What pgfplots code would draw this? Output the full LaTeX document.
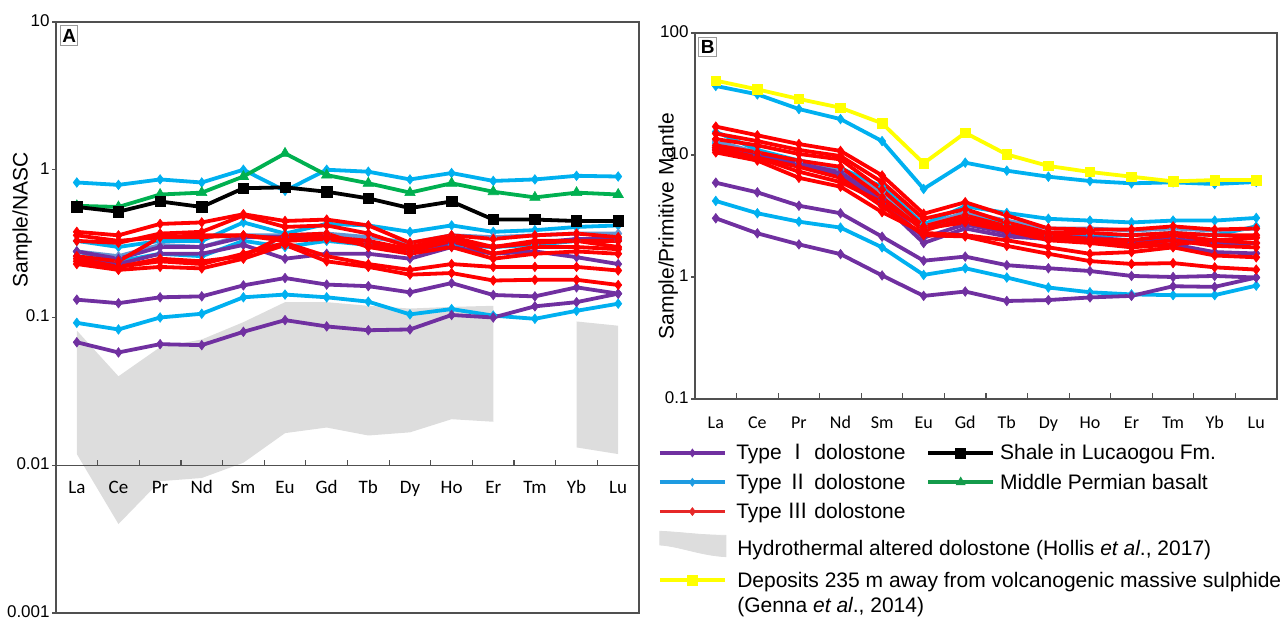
\documentclass[border=0pt]{standalone}
\usepackage{pgfplots}
\usepackage{pgfplotstable}
\pgfplotsset{compat=1.18}
\usepackage{fontspec}
\setmainfont{Liberation Sans}
\newfontfamily\carlito{Carlito}
\newfontfamily\cjk{Noto Sans CJK SC}

\definecolor{pur}{RGB}{112,48,160}
\definecolor{blu}{RGB}{0,176,240}
\definecolor{stl}{RGB}{100,150,210}
\definecolor{rd}{RGB}{255,0,0}
\definecolor{grn}{RGB}{0,176,80}
\definecolor{yel}{RGB}{255,255,0}
\definecolor{gry}{RGB}{221,221,221}
\definecolor{frm}{RGB}{80,80,80}
\definecolor{legblu}{RGB}{30,155,225}
\definecolor{legrd}{RGB}{230,40,40}
\definecolor{leggrn}{RGB}{20,155,75}

\pgfplotstableread{
x  P1    P2    P3    P4   B1   B2    B3   B4   B5   R1   R2   R3   R4   R5    R6    R7   G    K
0  0.068 0.132 0.26  0.28 0.82 0.092 0.33 0.28 0.28 0.38 0.33 0.26 0.24 0.23  0.25  0.36 0.57 0.56
1  0.058 0.125 0.23  0.25 0.79 0.083 0.30 0.24 0.26 0.36 0.32 0.24 0.22 0.21  0.22  0.33 0.56 0.52
2  0.066 0.137 0.27  0.30 0.86 0.100 0.33 0.27 0.31 0.43 0.37 0.35 0.25 0.22  0.24  0.35 0.68 0.61
3  0.065 0.139 0.27  0.30 0.82 0.106 0.33 0.26 0.30 0.44 0.38 0.35 0.24 0.215 0.23  0.36 0.70 0.56
4  0.080 0.165 0.31  0.35 1.00 0.137 0.44 0.33 0.36 0.50 0.49 0.36 0.26 0.25  0.27  0.36 0.90 0.75
5  0.096 0.185 0.25  0.35 0.72 0.143 0.37 0.30 0.36 0.45 0.41 0.33 0.36 0.31  0.32  0.34 1.29 0.76
6  0.087 0.167 0.27  0.35 1.00 0.137 0.43 0.33 0.37 0.46 0.42 0.34 0.37 0.24  0.26  0.35 0.92 0.71
7  0.082 0.163 0.27  0.33 0.97 0.128 0.42 0.31 0.35 0.42 0.37 0.31 0.30 0.22  0.23  0.33 0.81 0.64
8  0.083 0.148 0.25  0.27 0.86 0.105 0.38 0.28 0.32 0.32 0.30 0.28 0.27 0.195 0.21  0.29 0.70 0.55
9  0.104 0.171 0.30  0.32 0.95 0.114 0.42 0.31 0.36 0.36 0.35 0.33 0.30 0.20  0.23  0.33 0.81 0.61
10 0.100 0.142 0.27  0.30 0.84 0.103 0.38 0.30 0.35 0.34 0.30 0.27 0.25 0.178 0.22  0.30 0.71 0.46
11 0.119 0.139 0.28  0.32 0.86 0.098 0.39 0.31 0.36 0.36 0.33 0.30 0.27 0.18  0.22  0.32 0.65 0.46
12 0.127 0.160 0.256 0.34 0.91 0.111 0.41 0.33 0.37 0.37 0.33 0.30 0.28 0.18  0.22  0.33 0.70 0.45
13 0.145 0.145 0.23  0.34 0.90 0.124 0.42 0.33 0.37 0.35 0.30 0.29 0.27 0.166 0.208 0.33 0.68 0.45
}\tA

\pgfplotstableread{
x  P1    P2   P3   P4   B1   B2   B3   B4   B5   R1   R2   R3   R4   R5   R6   R7   Y
0  3.03  5.93 11.0 11.5 36.8 4.2  15.5 12.5 13.0 17.1 15.0 13.5 12.0 11.0 10.5 11.5 40.7
1  2.28  4.94 9.8  10.0 31.4 3.33 11.0 10.0 10.5 14.5 13.0 12.0 10.5 9.5  9.0  9.5  34.5
2  1.85  3.84 8.2  8.5  23.8 2.84 9.0  8.5  8.7  12.3 11.0 10.2 9.0  8.0  6.5  7.3  28.8
3  1.54  3.33 6.8  7.2  19.7 2.54 7.8  7.0  7.5  10.8 9.8  9.2  8.0  6.5  5.5  6.0  24.4
4  1.03  2.14 4.0  4.3  13.0 1.75 5.5  4.5  5.0  6.8  6.0  5.2  4.5  3.8  3.4  4.1  18.2
5  0.70  1.36 1.9  2.1  5.27 1.04 2.7  2.5  2.6  3.3  3.0  2.6  2.4  2.2  2.3  2.5  8.55
6  0.76  1.47 2.5  2.7  8.65 1.18 3.8  3.2  3.4  4.1  3.6  3.2  3.0  2.15 2.2  2.8  15.2
7  0.636 1.25 2.15 2.3  7.44 0.99 3.35 2.7  2.9  3.2  2.8  2.6  2.5  1.8  2.0  2.4  10.1
8  0.647 1.18 2.05 2.15 6.64 0.82 3.0  2.2  2.5  2.5  2.3  2.2  2.1  1.55 1.75 2.0  8.13
9  0.68  1.12 2.0  2.1  6.12 0.75 2.9  2.2  2.5  2.45 2.3  2.05 2.0  1.35 1.55 1.9  7.26
10 0.70  1.02 1.9  2.0  5.86 0.72 2.8  2.2  2.4  2.45 2.2  2.0  1.85 1.28 1.6  1.75 6.64
11 0.84  1.00 1.85 2.05 5.97 0.71 2.9  2.3  2.5  2.6  2.3  2.2  2.0  1.3  1.75 1.85 6.08
12 0.83  1.02 1.6  1.9  5.78 0.71 2.9  2.2  2.4  2.45 2.2  2.0  1.8  1.2  1.5  2.0  6.23
13 0.99  0.99 1.56 1.9  6.01 0.85 3.05 2.6  2.5  2.5  2.2  1.9  1.75 1.15 1.45 2.1  6.23
}\tB

\pgfplotsset{
  rsline/.style={line width=1.9pt, mark size=2.4pt, mark options={solid, line width=0.3pt}},
  rsP/.style={rsline, color=pur, mark=diamond*},
  rsB/.style={rsline, color=blu, mark=diamond*},
  rsS/.style={rsline, color=stl, mark=diamond*},
  rsR/.style={rsline, color=rd, mark=diamond*},
  rsG/.style={rsline, color=grn, mark=triangle*, mark size=3pt},
  rsK/.style={rsline, color=black, mark=square*, mark size=2.6pt},
  rsY/.style={rsline, color=yel, mark=square*, mark size=2.4pt},
}

\begin{document}
\begin{tikzpicture}
% ---------------- Panel A ----------------
\begin{axis}[
  axis on top,
  ymode=log, scale only axis, xmin=-0.5, xmax=13.5, clip=false,
  xtick={0,...,13},
  xticklabels={La,Ce,Pr,Nd,Sm,Eu,Gd,Tb,Dy,Ho,Er,Tm,Yb,Lu},
  yminorticks=false, major tick length=0pt,
  axis line style={frm, line width=0.7pt},
  yticklabel style={font=\fontsize{8.5}{10}\selectfont, inner xsep=1pt, xshift=-2pt, yshift=0.75pt},
  label style={font=\fontsize{10.5}{12}\selectfont},
  at={(28pt,-11pt)}, anchor=north west,
  width=291.5pt, height=295.5pt,
  ymin=0.001, ymax=10,
  ytick={0.001,0.01,0.1,1,10}, yticklabels={0.001,0.01,0.1,1,10},
  xticklabel style={anchor=base, yshift=59.8pt, font=\carlito\fontsize{9.5}{11}\selectfont},
  ylabel={Sample/NASC},
  ylabel style={at={(axis description cs:-0.058,0.665)}, anchor=center},
]
\addplot[fill=gry, draw=none, forget plot] coordinates {
 (0,0.0816) (1,0.040) (2,0.063) (3,0.071) (4,0.093) (5,0.127) (6,0.127)
 (7,0.12) (8,0.115) (9,0.118) (10,0.12)
 (10,0.0197) (9,0.0205) (8,0.0167) (7,0.0159) (6,0.018) (5,0.0165)
 (4,0.0104) (3,0.0082) (2,0.0078) (1,0.0040) (0,0.0119)};
\addplot[fill=gry, draw=none, forget plot] coordinates {
 (12,0.094) (13,0.088) (13,0.0119) (12,0.0132)};
\draw[frm, line width=0.7pt] (axis cs:-0.5,0.01) -- (axis cs:13.5,0.01);
\pgfplotsinvokeforeach{0.5,1.5,2.5,3.5,4.5,5.5,6.5,7.5,8.5,9.5,10.5,11.5,12.5}{
  \draw[frm, line width=0.6pt] (axis cs:#1,0.01) -- ++(0pt,2.5pt);}
\pgfplotsinvokeforeach{0.001,0.01,0.1,1,10}{
  \draw[frm, line width=0.6pt] (axis cs:-0.5,#1) -- ++(-2pt,0pt);}
\pgfplotsinvokeforeach{B1,B2,B3,B4}{\addplot[rsB, forget plot] table[x=x,y=#1]{\tA};}
\addplot[rsS, forget plot] table[x=x,y=B5]{\tA};
\pgfplotsinvokeforeach{P1,P2,P3,P4}{\addplot[rsP, forget plot] table[x=x,y=#1]{\tA};}
\pgfplotsinvokeforeach{R1,R2,R3,R4,R5,R6,R7}{\addplot[rsR, forget plot] table[x=x,y=#1]{\tA};}
\addplot[rsG, forget plot] table[x=x,y=G]{\tA};
\addplot[rsK, forget plot] table[x=x,y=K]{\tA};
\node[draw=gray!80, fill=white, line width=0.6pt, inner sep=0pt, minimum width=8.5pt,
  minimum height=10pt, anchor=north west, font=\bfseries\fontsize{9.5}{10}\selectfont]
  at (rel axis cs:0.0069,0.995) {A};
\end{axis}

% ---------------- Panel B ----------------
\begin{axis}[
  ymode=log, scale only axis, xmin=-0.5, xmax=13.5, clip=false,
  xtick={0,...,13},
  xticklabels={La,Ce,Pr,Nd,Sm,Eu,Gd,Tb,Dy,Ho,Er,Tm,Yb,Lu},
  yminorticks=false, major tick length=0pt,
  axis line style={frm, line width=0.7pt},
  yticklabel style={font=\fontsize{8.5}{10}\selectfont, inner xsep=1pt, xshift=-2pt, yshift=0.75pt},
  label style={font=\fontsize{10.5}{12}\selectfont},
  at={(347.5pt,-16.5pt)}, anchor=north west,
  width=291pt, height=183pt,
  ymin=0.1, ymax=100,
  ytick={0.1,1,10,100}, yticklabels={0.1,1,10,100},
  xticklabel style={anchor=base, yshift=-14.5pt, font=\carlito\fontsize{9}{11}\selectfont},
  ylabel={Sample/Primitive Mantle},
  ylabel style={at={(axis description cs:-0.046,0.473)}, anchor=center},
  legend columns=2,
  legend cell align=left,
  legend image code/.code={\draw[mark repeat=2, mark phase=2, #1] plot coordinates {(0pt,0pt) (16.25pt,0pt) (32.5pt,0pt)};},
  legend style={at={(axis description cs:-0.0636,-0.1202)}, anchor=north west,
    draw=none, fill=none, inner sep=0pt, outer sep=0pt, row sep=4.65pt,
    font=\fontsize{10.5}{12.6}\selectfont,
    nodes={inner sep=0pt, outer sep=0pt, text height=8.5pt, text depth=1.5pt},
    /tikz/column 1/.style={column sep=4.75pt},
    /tikz/column 2/.style={column sep=11.5pt},
    /tikz/column 3/.style={column sep=2.5pt}},
]
\pgfplotsinvokeforeach{0.5,1.5,2.5,3.5,4.5,5.5,6.5,7.5,8.5,9.5,10.5,11.5,12.5}{
  \draw[frm, line width=0.6pt] (axis cs:#1,0.1) -- ++(0pt,3pt);}
\pgfplotsinvokeforeach{0.1,1,10,100}{
  \draw[frm, line width=0.6pt] (axis cs:-0.5,#1) -- ++(-2pt,0pt);}
\pgfplotsinvokeforeach{B1,B2,B3,B4}{\addplot[rsB, forget plot] table[x=x,y=#1]{\tB};}
\addplot[rsS, forget plot] table[x=x,y=B5]{\tB};
\pgfplotsinvokeforeach{P1,P2,P3,P4}{\addplot[rsP, forget plot] table[x=x,y=#1]{\tB};}
\pgfplotsinvokeforeach{R1,R2,R3,R4,R5,R6,R7}{\addplot[rsR, forget plot] table[x=x,y=#1]{\tB};}
\addplot[rsY, forget plot] table[x=x,y=Y]{\tB};
\node[draw=gray!80, fill=white, line width=0.6pt, inner sep=0pt, minimum width=9pt,
  minimum height=9.5pt, anchor=north west, font=\bfseries\fontsize{9.5}{10}\selectfont]
  at (rel axis cs:0.0052,0.989) {B};

\addlegendimage{color=pur, line width=1.9pt, mark=diamond*, mark size=2pt, mark options={solid,line width=0.3pt}}
\addlegendentry{\makebox[83.5pt][l]{Type {\cjk Ⅰ} dolostone}}
\addlegendimage{color=black, line width=1.9pt, mark=square*, mark size=2.5pt, mark options={solid,line width=0.3pt}}
\addlegendentry{Shale in Lucaogou Fm.}
\addlegendimage{color=legblu, line width=1.9pt, mark=diamond*, mark size=2pt, mark options={solid,line width=0.3pt}}
\addlegendentry{\makebox[83.5pt][l]{Type {\cjk Ⅱ} dolostone}}
\addlegendimage{color=leggrn, line width=1.9pt, mark=triangle*, mark size=2.6pt, mark options={solid,line width=0.3pt}}
\addlegendentry{Middle Permian basalt}
\addlegendimage{color=legrd, line width=1.9pt, mark=diamond*, mark size=2pt, mark options={solid,line width=0.3pt}}
\addlegendentry{\makebox[83.5pt][l]{Type {\cjk Ⅲ} dolostone}}
\addlegendimage{empty legend}
\addlegendentry{}
\addlegendimage{legend image code/.code={
  \fill[gry] (0pt,8.5pt) .. controls (12pt,8pt) and (20pt,6.5pt) .. (33pt,6.5pt)
    -- (33pt,-4.2pt) .. controls (20pt,-3.5pt) and (10pt,1pt) .. (0pt,1.65pt) -- cycle;
  \path[draw=none, fill=none] (0pt,-6.35pt) -- (0.01pt,8.5pt);}}
\addlegendentry{\makebox[0pt][l]{Hydrothermal altered dolostone (Hollis \textit{et al}., 2017)}}
\addlegendimage{empty legend}
\addlegendentry{}
\addlegendimage{color=yel, line width=1.9pt, mark=square*, mark size=2.5pt, mark options={solid,line width=0.3pt}}
\addlegendentry{\makebox[0pt][l]{\begin{tabular}[t]{@{}l@{}}Deposits 235 m away from volcanogenic massive sulphide\\(Genna \textit{et al}., 2014)\end{tabular}}}
\end{axis}

\pgfresetboundingbox
\path[use as bounding box] (0pt,0pt) rectangle (641.5pt,-309.5pt);
\end{tikzpicture}
\end{document}
